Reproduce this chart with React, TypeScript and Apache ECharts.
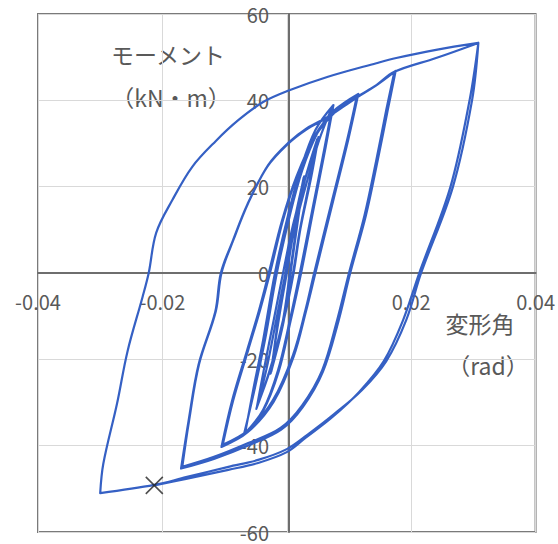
import { useEffect, useRef } from "react";
import * as echarts from "echarts";

type Pt = [number, number];

// rad, kN·m — two cycles at ±1/400
const cycle400: Pt[] = [
  [0, 0], [0.0013, 11.5], [0.0027, 22.0],
  [0.0016, 11.1], [0.0005, 0], [-0.0006, -10.9], [-0.0025, -22.9],
  [-0.0014, -10.9], [-0.0002, 0], [0.0011, 11.1], [0.0028, 22.4],
  [0.0017, 11.3], [0.0006, 0], [-0.0005, -11.2], [-0.0026, -23.3],
];

// two cycles at ±1/200
const cycle200: Pt[] = [
  [-0.0013, -10.9], [0, 0], [0.0013, 11.1], [0.0029, 21.5], [0.0049, 31.0],
  [0.0037, 21.5], [0.0021, 10.0], [0.001, 0], [-0.0006, -10.9], [-0.0027, -22.5], [-0.0048, -31.0],
  [-0.0037, -22.5], [-0.0021, -10.9], [-0.0006, 0], [0.001, 11.1], [0.0029, 21.5], [0.0051, 31.5],
  [0.0039, 22.0], [0.0022, 10.3], [0.0011, 0], [-0.0005, -11.0], [-0.0028, -22.8], [-0.0049, -31.5],
];

// two cycles at ±1/133
const cycle133: Pt[] = [
  [-0.0033, -22.5], [-0.0017, -10.9], [-0.0002, 0], [0.0014, 11.1], [0.0033, 21.5], [0.0052, 30.8], [0.0073, 38.5],
  [0.006, 28.5], [0.0041, 14.6], [0.0021, 0], [0.0005, -10.9], [-0.0014, -22.5], [-0.0038, -31.7], [-0.0067, -37.1],
  [-0.0054, -27.1], [-0.0038, -15.5], [-0.0019, 0], [0.0002, 13.4], [0.0022, 23.9], [0.0046, 33.1], [0.0075, 38.9],
  [0.0062, 28.8], [0.0043, 14.8], [0.0023, 0], [0.0006, -11.2], [-0.0013, -22.8], [-0.0039, -32.2], [-0.0069, -37.5],
];

// two cycles at ±1/100
const cycle100: Pt[] = [
  [-0.0052, -27.1], [-0.0035, -15.5], [-0.0016, 0], [0.0005, 13.4], [0.0025, 23.9], [0.0049, 32.4], [0.0073, 37.3], [0.0113, 41.2],
  [0.0097, 30.8], [0.0073, 16.9], [0.0044, 0], [0.003, -8.6], [0.001, -19.0], [-0.0022, -29.4], [-0.0062, -36.4], [-0.0103, -39.8],
  [-0.0086, -29.4], [-0.0062, -17.8], [-0.0043, -8.6], [-0.0027, 0], [-0.0006, 12.3], [0.0017, 22.7], [0.0046, 32.0], [0.0078, 37.8], [0.0115, 41.5],
  [0.0099, 31.0], [0.0075, 17.0], [0.0046, 0], [0.0031, -8.8], [0.0011, -19.4], [-0.0021, -29.8], [-0.0063, -36.9], [-0.0105, -40.3],
];

// two cycles at ±1/67, the last loading running on to +1/33
const cycle67: Pt[] = [
  [-0.0088, -29.6], [-0.0064, -18.0], [-0.0045, -8.8], [-0.0029, 0], [-0.0008, 12.0], [0.0016, 22.5], [0.0045, 31.5], [0.008, 37.6], [0.0113, 40.8], [0.0144, 43.5], [0.0173, 46.6],
  [0.016, 37.8], [0.0144, 26.2], [0.0125, 13.4], [0.01, 0], [0.0081, -10.9], [0.0057, -22.5], [0.0025, -30.6], [-0.001, -35.9], [-0.0062, -39.4], [-0.0117, -42.6], [-0.0168, -44.9],
  [-0.0157, -34.1], [-0.0141, -21.1], [-0.0114, -8.8], [-0.0105, 0], [-0.0086, 7.6], [-0.0062, 16.2], [-0.003, 25.0], [0.0002, 30.1], [0.0033, 33.6], [0.0065, 36.1], [0.0113, 40.8], [0.0144, 43.5], [0.0175, 46.8],
  [0.0162, 37.5], [0.0146, 26.0], [0.0127, 13.2], [0.0102, 0], [0.0083, -11.2], [0.0058, -22.9], [0.0026, -31.0], [-0.0009, -36.3], [-0.0061, -39.9], [-0.0116, -43.0], [-0.017, -45.3],
  [-0.0158, -34.3], [-0.0142, -21.3], [-0.0115, -9.0], [-0.0106, 0], [-0.0087, 7.4], [-0.0063, 16.0], [-0.0031, 24.7], [0.0001, 29.8], [0.0032, 33.3], [0.0064, 35.9], [0.0112, 40.6], [0.0143, 43.4], [0.0173, 46.6], [0.024, 49.8], [0.0308, 53.3],
];

// cycles at ±1/33, ending at failure
const cycle33: Pt[] = [
  [0.0298, 40.1], [0.0267, 19.9], [0.0216, 0], [0.0192, -10.9], [0.016, -20.4], [0.0121, -27.1], [0.0076, -32.7], [0.0033, -37.5], [0, -40.8], [-0.0046, -43.3], [-0.0094, -44.9], [-0.0162, -47.3], [-0.0213, -49.1], [-0.03, -51.0],
  [-0.0295, -44.2], [-0.0273, -30.3], [-0.0256, -18.1], [-0.0232, -5.6], [-0.0222, 0], [-0.021, 9.3], [-0.0184, 16.9], [-0.0152, 24.6], [-0.0114, 30.6], [-0.0078, 35.4], [-0.0038, 39.6], [0.0002, 42.2], [0.0065, 45.4], [0.0144, 48.6], [0.0176, 49.8], [0.024, 51.7], [0.0308, 53.3],
  [0.0294, 40.1], [0.0263, 19.9], [0.0213, 0], [0.0187, -10.9], [0.0156, -20.4], [0.0116, -27.6], [0.0073, -33.4], [0.003, -38.2], [0, -41.5], [-0.0046, -44.0], [-0.0094, -45.6], [-0.0162, -47.7], [-0.0213, -49.2],
];

const failurePoint: Pt = [-0.0213, -49.2];

const xRange = { min: -0.04, max: 0.04, step: 0.02 };
const yRange = { min: -60, max: 60, step: 20 };

const yAxisName = ["モーメント", "（kN・m）"];
const xAxisName = ["変形角", "（rad）"];

const FONT = "'Noto Sans CJK JP', 'Noto Sans', sans-serif";
const GRAY = "#595959";

const GRID = { left: 38, top: 14, width: 502, height: 518 };

export default function App() {
  const ref = useRef<HTMLDivElement>(null);
  useEffect(() => {
    if (!ref.current) return;
    const chart = echarts.init(ref.current, null, { renderer: "svg" });
    const data = [...cycle400, ...cycle200, ...cycle133, ...cycle100, ...cycle67, ...cycle33];
    const mkText = (text: string, x: number, y: number) => ({
      type: "text",
      x,
      y,
      style: {
        text,
        fill: GRAY,
        fontSize: 23,
        fontFamily: FONT,
        align: "center",
        verticalAlign: "middle",
        textAlign: "center",
        textVerticalAlign: "middle",
      },
    });
    chart.setOption({
      animation: false,
      grid: {
        left: GRID.left,
        top: GRID.top,
        width: GRID.width,
        height: GRID.height,
        show: true,
        borderColor: "#7a7a7a",
        borderWidth: 2,
        backgroundColor: "transparent",
      },
      xAxis: {
        type: "value",
        min: xRange.min,
        max: xRange.max,
        interval: xRange.step,
        position: "bottom",
        offset: -GRID.height / 2,
        axisLine: { onZero: false, lineStyle: { color: "#6e6e6e", width: 2 } },
        axisTick: { show: false },
        splitLine: { lineStyle: { color: "#d9d9d9", width: 1 } },
        axisLabel: {
          margin: 18,
          color: GRAY,
          fontSize: 20,
          fontFamily: FONT,
          formatter: (v: number) => (Math.abs(v) < 1e-9 ? "" : String(+v.toFixed(2))),
        },
      },
      yAxis: {
        type: "value",
        min: yRange.min,
        max: yRange.max,
        interval: yRange.step,
        position: "left",
        offset: -GRID.width / 2,
        axisLine: { onZero: false, lineStyle: { color: "#6e6e6e", width: 2 } },
        axisTick: { show: false },
        splitLine: { lineStyle: { color: "#d9d9d9", width: 1 } },
        axisLabel: {
          margin: 20,
          color: GRAY,
          fontSize: 20,
          fontFamily: FONT,
        },
      },
      graphic: [
        mkText(yAxisName[0], 168, 54),
        mkText(yAxisName[1], 171, 97),
        mkText(xAxisName[0], 480, 323),
        mkText(xAxisName[1], 488, 365),
      ],
      series: [
        {
          type: "line",
          data,
          showSymbol: false,
          smooth: 0.35,
          lineStyle: { color: "#3560c4", width: 2.2, join: "round" },
          z: 3,
        },
        {
          type: "scatter",
          data: [failurePoint],
          symbol: "path://M0 0L10 10M10 0L0 10",
          symbolSize: 17,
          itemStyle: { color: "rgba(0,0,0,0)", borderColor: "#222222", borderWidth: 1.6 },
          z: 4,
        },
      ],
    });
    return () => chart.dispose();
  }, []);
  return (
    <div
      ref={ref}
      style={{ position: "fixed", left: 0, top: 0, width: 558, height: 544, background: "#fff" }}
    />
  );
}
